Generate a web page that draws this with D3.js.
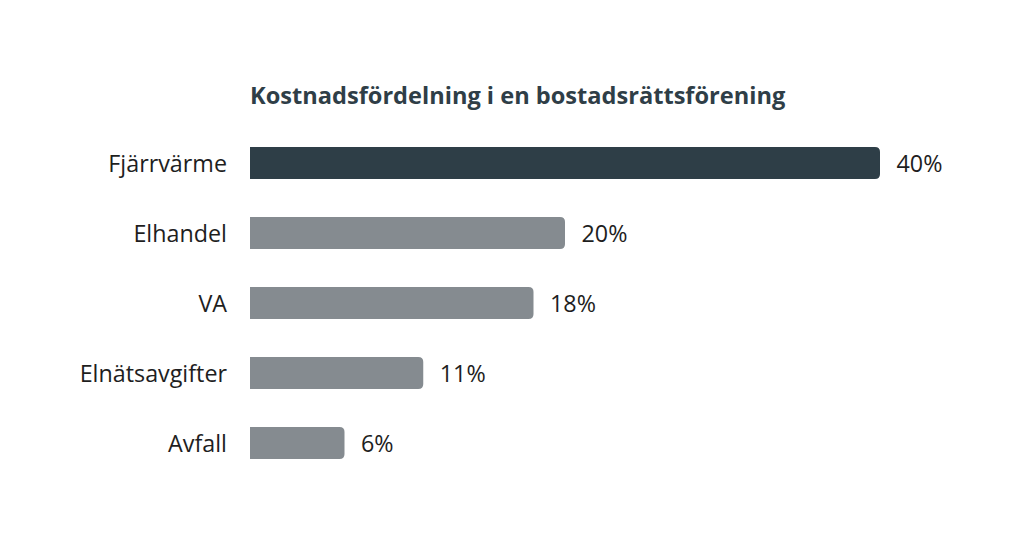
<!DOCTYPE html>
<html>
<head>
<meta charset="utf-8">
<script src="https://cdn.jsdelivr.net/npm/d3@7"></script>
<style>
  html, body { margin: 0; padding: 0; background: #fff; }
  svg { display: block; }
  text { font-family: "Open Sans", sans-serif; }
</style>
</head>
<body>
<svg id="chart" width="1024" height="539"></svg>
<script>
const titleText = "Kostnadsfördelning i en bostadsrättsförening";
const categories = ["Fjärrvärme", "Elhandel", "VA", "Elnätsavgifter", "Avfall"];
const values = [40, 20, 18, 11, 6];
const highlight = ["Fjärrvärme"];

const svg = d3.select("#chart");
const x = d3.scaleLinear().domain([0, 40]).range([250, 880]);
const y = d3.scaleBand().domain(categories).range([128, 478]).paddingInner(0.543).paddingOuter(0.2715);

svg.append("text")
  .attr("x", 250).attr("y", 104)
  .attr("font-size", 23.6).attr("font-weight", 700)
  .attr("fill", "#2f3e47")
  .text(titleText);

const r = 5;
function barPath(v, c) {
  const x0 = x(0), x1 = x(v), y0 = y(c), h = y.bandwidth();
  return `M${x0},${y0}H${x1 - r}Q${x1},${y0} ${x1},${y0 + r}V${y0 + h - r}Q${x1},${y0 + h} ${x1 - r},${y0 + h}H${x0}Z`;
}

svg.append("g").selectAll("path")
  .data(categories)
  .join("path")
  .attr("d", (c, i) => barPath(values[i], c))
  .attr("fill", c => highlight.includes(c) ? "#2e3e47" : "#858b90");

svg.append("g").selectAll("text")
  .data(categories)
  .join("text")
  .attr("x", (c, i) => x(values[i]) + 16.5)
  .attr("y", c => y(c) + y.bandwidth() / 2)
  .attr("dy", "0.37em")
  .attr("font-size", 23.3)
  .attr("fill", "#1e1e1e")
  .text((c, i) => values[i] + "%");

const axis = svg.append("g")
  .attr("transform", `translate(${x(0)},0)`)
  .call(d3.axisLeft(y).tickSize(0).tickPadding(23));
axis.select(".domain").remove();
axis.selectAll("text")
  .attr("font-size", 23.3)
  .attr("font-family", "'Open Sans', sans-serif")
  .attr("fill", "#1e1e1e")
  .attr("dy", "0.37em");
</script>
</body>
</html>
